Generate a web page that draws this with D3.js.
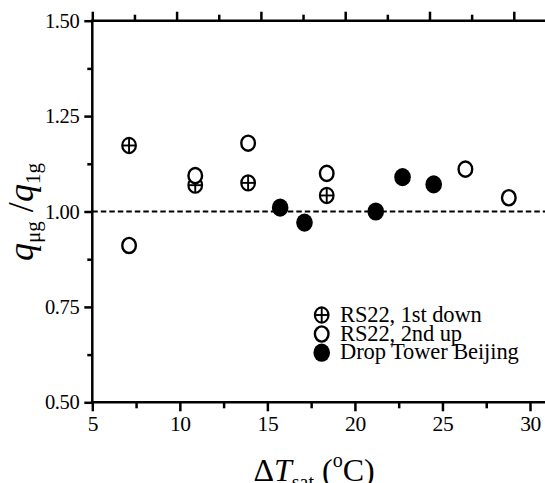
<!DOCTYPE html>
<html>
<head>
<meta charset="utf-8">
<script src="https://cdn.jsdelivr.net/npm/d3@7/dist/d3.min.js"></script>
</head>
<body style="margin:0;padding:0;background:#fff;overflow:hidden">
<div id="chart"></div>
<script>
// ---- data ----
const down1X = [7.10, 10.88, 13.90, 18.39];
const down1Y = [1.173, 1.069, 1.075, 1.042];

const up2X = [7.10, 10.88, 13.90, 18.39, 26.31, 28.79];
const up2Y = [0.911, 1.094, 1.179, 1.100, 1.111, 1.036];

const towerX = [15.73, 17.12, 21.19, 22.72, 24.50];
const towerY = [1.010, 0.971, 1.000, 1.090, 1.071];

const xTicks = [5, 10, 15, 20, 25, 30];
const yTicks = [0.50, 0.75, 1.00, 1.25, 1.50];
const yTickLabels = ["0.50", "0.75", "1.00", "1.25", "1.50"];
const legendLabels = ["RS22, 1st down", "RS22, 2nd up", "Drop Tower Beijing"];
const refLine = 1.0;

// ---- layout ----
const FONT = '"Liberation Serif", "Times New Roman", serif';
const W = 545, H = 483;
const m = { left: 92.3, top: 20.7, right: 547.5, bottom: 402.3 };

const svg = d3.select("#chart").append("svg")
  .attr("width", W).attr("height", H)
  .style("display", "block")
  .style("font-family", FONT);

const x = d3.scaleLinear().domain([5, 31]).range([m.left, m.right]);
const xTop = d3.scaleLinear().domain([5, 32]).range([m.left, m.right]);
const y = d3.scaleLinear().domain([0.5, 1.5]).range([m.bottom, m.top]);

const axisW = 2.5;

function styleAxis(g) {
  g.attr("font-family", null);
  g.select(".domain").remove();
  g.selectAll("line").attr("stroke", "#000").attr("stroke-width", axisW);
  g.selectAll("text").attr("font-size", 20.5).attr("fill", "#000")
    .style("font-family", FONT).attr("letter-spacing", -0.4);
}

// dashed reference line
svg.append("line")
  .attr("x1", x(5)).attr("x2", x(31))
  .attr("y1", y(refLine)).attr("y2", y(refLine))
  .attr("stroke", "#000").attr("stroke-width", 2)
  .attr("stroke-dasharray", "5.5,3");

// bottom axis: minor ticks
const xMinor = d3.range(7.5, 31, 5);
svg.append("g").attr("transform", `translate(0,${m.bottom})`)
  .call(d3.axisBottom(x).tickValues(xMinor).tickSize(6).tickFormat(""))
  .call(styleAxis);
// bottom axis: major
svg.append("g").attr("transform", `translate(0,${m.bottom})`)
  .call(d3.axisBottom(x).tickValues(xTicks).tickSize(9).tickPadding(4).tickFormat(d3.format("d")))
  .call(styleAxis)
  .call(g => g.selectAll("text").attr("font-size", 21.5));

// top axis
const topMinor = d3.range(7.5, 32, 5);
const topMajor = d3.range(5, 32.1, 5);
svg.append("g").attr("transform", `translate(0,${m.top})`)
  .call(d3.axisTop(xTop).tickValues(topMinor).tickSize(6).tickFormat(""))
  .call(styleAxis);
svg.append("g").attr("transform", `translate(0,${m.top})`)
  .call(d3.axisTop(xTop).tickValues(topMajor).tickSize(9).tickFormat(""))
  .call(styleAxis);

// left axis
const yMinor = d3.range(0.625, 1.5, 0.25);
svg.append("g").attr("transform", `translate(${m.left},0)`)
  .call(d3.axisLeft(y).tickValues(yMinor).tickSize(5).tickFormat(""))
  .call(styleAxis);
svg.append("g").attr("transform", `translate(${m.left},0)`)
  .call(d3.axisLeft(y).tickValues(yTicks).tickSize(8).tickPadding(5)
    .tickFormat((d, i) => yTickLabels[i]))
  .call(styleAxis);

// frame lines
svg.append("line").attr("x1", m.left).attr("x2", m.left)
  .attr("y1", m.top - 1.2).attr("y2", m.bottom + 1.2)
  .attr("stroke", "#000").attr("stroke-width", axisW);
svg.append("line").attr("x1", m.left).attr("x2", m.right)
  .attr("y1", m.top).attr("y2", m.top)
  .attr("stroke", "#000").attr("stroke-width", axisW);
svg.append("line").attr("x1", m.left).attr("x2", m.right)
  .attr("y1", m.bottom).attr("y2", m.bottom)
  .attr("stroke", "#000").attr("stroke-width", axisW);
svg.append("line").attr("x1", m.right).attr("x2", m.right)
  .attr("y1", m.top).attr("y2", m.bottom)
  .attr("stroke", "#000").attr("stroke-width", axisW);

// ---- markers ----
const rxO = 6.8, ryO = 7.6, rxF = 8.3, ryF = 9.1;

function crossed(g, cx, cy) {
  g.append("ellipse").attr("cx", cx).attr("cy", cy).attr("rx", rxO).attr("ry", ryO)
    .attr("fill", "#fff").attr("stroke", "#000").attr("stroke-width", 2.2);
  g.append("line").attr("x1", cx - rxO).attr("x2", cx + rxO).attr("y1", cy).attr("y2", cy)
    .attr("stroke", "#000").attr("stroke-width", 1.9);
  g.append("line").attr("x1", cx).attr("x2", cx).attr("y1", cy - ryO).attr("y2", cy + ryO)
    .attr("stroke", "#000").attr("stroke-width", 1.9);
}
function openC(g, cx, cy) {
  g.append("ellipse").attr("cx", cx).attr("cy", cy).attr("rx", rxO).attr("ry", ryO)
    .attr("fill", "#fff").attr("stroke", "#000").attr("stroke-width", 2.4);
}
function filledC(g, cx, cy) {
  g.append("ellipse").attr("cx", cx).attr("cy", cy).attr("rx", rxF).attr("ry", ryF)
    .attr("fill", "#000");
}

const gm = svg.append("g");
down1X.forEach((d, i) => crossed(gm, x(d), y(down1Y[i])));
up2X.forEach((d, i) => openC(gm, x(d), y(up2Y[i])));
towerX.forEach((d, i) => filledC(gm, x(d), y(towerY[i])));

// ---- legend ----
const leg = svg.append("g");
const legSymX = 321.7, legTextX = 340;
const legY = [315, 334, 352.7];
crossed(leg, legSymX, legY[0]);
openC(leg, legSymX, legY[1]);
filledC(leg, legSymX, legY[2]);
legendLabels.forEach((t, i) => {
  leg.append("text").attr("x", legTextX).attr("y", legY[i] + 6.5)
    .attr("font-size", 22.5).attr("letter-spacing", -0.1)
    .style("font-family", FONT).text(t);
});

// ---- axis titles ----
const xt = svg.append("text").attr("x", 314).attr("y", 481)
  .attr("text-anchor", "middle").attr("font-size", 32).style("font-family", FONT);
xt.append("tspan").text("Δ");
xt.append("tspan").attr("font-style", "italic").text("T");
xt.append("tspan").attr("font-size", 20).attr("dy", 8).text("sat");
xt.append("tspan").attr("dy", -8).text(" (");
xt.append("tspan").attr("font-size", 20).attr("dy", -14).text("o");
xt.append("tspan").attr("dy", 14).text("C)");

const yt = svg.append("text").attr("transform", "translate(33,212) rotate(-90)")
  .attr("text-anchor", "middle").attr("font-size", 36).style("font-family", FONT);
yt.append("tspan").attr("font-style", "italic").text("q");
yt.append("tspan").attr("font-size", 21).attr("dy", 7).text("μg");
yt.append("tspan").attr("dy", -7).text(" /");
yt.append("tspan").attr("font-style", "italic").text("q");
yt.append("tspan").attr("font-size", 21).attr("dy", 7).text("1g");
</script>
</body>
</html>
